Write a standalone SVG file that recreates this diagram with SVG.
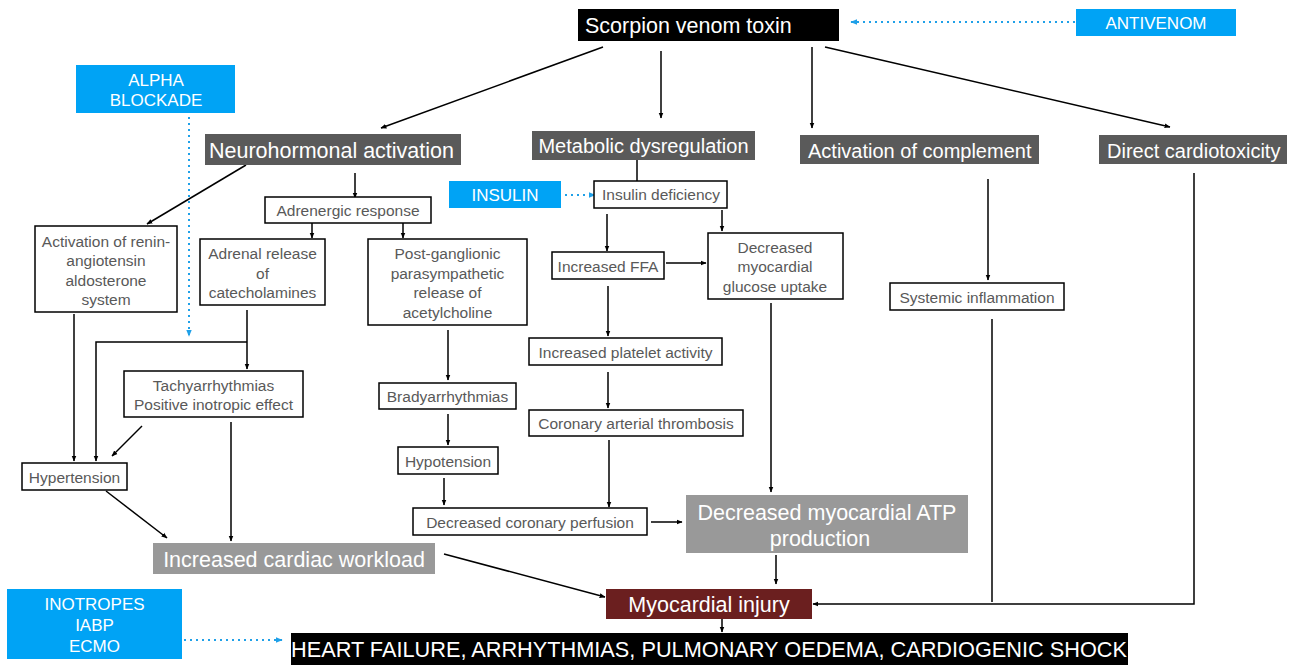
<svg xmlns="http://www.w3.org/2000/svg" width="1290" height="666" viewBox="0 0 1290 666">
<defs>
<style>
.bx{fill:#fff;stroke:#000;stroke-width:1.5}
.t{font-family:"Liberation Sans",Arial,sans-serif;font-size:15.5px;fill:#595959;text-anchor:middle}
.big{font-family:"Liberation Sans",Arial,sans-serif;font-size:20px;fill:#fff}
.big2{font-family:"Liberation Sans",Arial,sans-serif;font-size:21.5px;fill:#fff}
.bl{font-family:"Liberation Sans",Arial,sans-serif;font-size:17px;fill:#fff;text-anchor:middle}
.blue{fill:#00A3F5}
.dg{fill:#5a5a5a}
.lg{fill:#999}
.c{fill:none;stroke:#000;stroke-width:1.5}
.a{marker-end:url(#ah)}
.d{fill:none;stroke:#1FA0E8;stroke-width:2;stroke-dasharray:2,4;marker-end:url(#bh)}
</style>
<marker id="ah" viewBox="0 0 10 10" refX="9" refY="5" markerWidth="6" markerHeight="6" orient="auto" markerUnits="userSpaceOnUse"><path d="M0,1 L10,5 L0,9 z" fill="#000"/></marker>
<marker id="bh" viewBox="0 0 10 10" refX="9" refY="5" markerWidth="7" markerHeight="7" orient="auto" markerUnits="userSpaceOnUse"><path d="M0,1 L10,5 L0,9 z" fill="#1FA0E8"/></marker>
</defs>
<rect width="1290" height="666" fill="#fff"/>

<g id="connectors">
<line class="c a" x1="603" y1="47" x2="381" y2="128"/>
<line class="c a" x1="661" y1="51" x2="661" y2="118"/>
<line class="c a" x1="812" y1="47" x2="812" y2="128"/>
<line class="c a" x1="825" y1="47" x2="1170" y2="127"/>
<line class="c a" x1="246" y1="165" x2="147" y2="224"/>
<line class="c a" x1="355" y1="173" x2="355" y2="198"/>
<line class="c" x1="637" y1="160" x2="637" y2="183"/>
<line class="c a" x1="312" y1="223" x2="312" y2="238"/>
<line class="c a" x1="403" y1="223" x2="403" y2="238"/>
<line class="c a" x1="74" y1="314" x2="74" y2="461"/>
<line class="c a" x1="247" y1="310" x2="247" y2="369"/>
<polyline class="c a" points="247,342 96,342 96,461"/>
<line class="c a" x1="142" y1="426" x2="112" y2="456"/>
<line class="c a" x1="231" y1="422" x2="231" y2="541"/>
<line class="c a" x1="106" y1="491" x2="167" y2="538"/>
<line class="c a" x1="444" y1="554" x2="605" y2="597"/>
<line class="c a" x1="448" y1="330" x2="448" y2="380"/>
<line class="c a" x1="448" y1="414" x2="448" y2="445"/>
<line class="c a" x1="444" y1="478" x2="444" y2="505"/>
<line class="c a" x1="607" y1="214" x2="607" y2="251"/>
<line class="c a" x1="722" y1="210" x2="722" y2="231"/>
<line class="c a" x1="666" y1="263" x2="706" y2="263"/>
<line class="c a" x1="608" y1="286" x2="608" y2="336"/>
<line class="c a" x1="608" y1="372" x2="608" y2="408"/>
<line class="c a" x1="609" y1="440" x2="609" y2="507"/>
<line class="c a" x1="771" y1="303" x2="771" y2="492"/>
<line class="c a" x1="651" y1="522" x2="682" y2="522"/>
<line class="c a" x1="776" y1="555" x2="776" y2="584"/>
<line class="c a" x1="722" y1="619" x2="722" y2="632"/>
<line class="c a" x1="988" y1="179" x2="988" y2="280"/>
<line class="c" x1="992" y1="319" x2="992" y2="602"/>
<polyline class="c a" points="1194,173 1194,604 813,604"/>
<line class="d" x1="1075" y1="22" x2="851" y2="22"/>
<line class="d" x1="565" y1="195" x2="595" y2="195"/>
<line class="d" x1="189" y1="117" x2="189" y2="336"/>
<line class="d" x1="184" y1="640" x2="282" y2="640"/>
</g>

<g id="scorpion"><rect x="578" y="9" width="261" height="32" fill="#000"/><text class="big2" x="585" y="33">Scorpion venom toxin</text></g>
<g id="antivenom"><rect class="blue" x="1076" y="9" width="160" height="27"/><text class="bl" x="1156" y="29">ANTIVENOM</text></g>
<g id="alpha"><rect class="blue" x="76" y="65" width="159" height="48"/><text class="bl" x="156" y="86">ALPHA</text><text class="bl" x="156" y="106">BLOCKADE</text></g>
<g id="neuro"><rect class="dg" x="205" y="134" width="256" height="31"/><text class="big2" x="209" y="158">Neurohormonal activation</text></g>
<g id="metabolic"><rect class="dg" x="532" y="131" width="223" height="29"/><text class="big" x="643.5" y="153" text-anchor="middle">Metabolic dysregulation</text></g>
<g id="complement"><rect class="dg" x="800" y="135" width="239" height="29"/><text class="big" x="808" y="158">Activation of complement</text></g>
<g id="direct"><rect class="dg" x="1099" y="135" width="188" height="29"/><text class="big" x="1107" y="158">Direct cardiotoxicity</text></g>
<g id="insulin"><rect class="blue" x="449" y="181" width="112" height="27"/><text class="bl" x="505" y="201">INSULIN</text></g>
<g id="insdef"><rect class="bx" x="594" y="181" width="133" height="27"/><text class="t" x="661" y="200">Insulin deficiency</text></g>
<g id="adrenergic"><rect class="bx" x="265" y="197" width="166" height="26"/><text class="t" x="348" y="215.5">Adrenergic response</text></g>
<g id="raas"><rect class="bx" x="35" y="226" width="142" height="86"/><text class="t" x="106" y="246.5">Activation of renin-</text><text class="t" x="106" y="265.5">angiotensin</text><text class="t" x="106" y="285.5">aldosterone</text><text class="t" x="106" y="304.5">system</text></g>
<g id="adrenal"><rect class="bx" x="200" y="239" width="125" height="66"/><text class="t" x="262.5" y="258.5">Adrenal release</text><text class="t" x="262.5" y="278.5">of</text><text class="t" x="262.5" y="297.5">catecholamines</text></g>
<g id="postgang"><rect class="bx" x="368" y="239" width="159" height="86"/><text class="t" x="447.5" y="258.5">Post-ganglionic</text><text class="t" x="447.5" y="278.5">parasympathetic</text><text class="t" x="447.5" y="297.5">release of</text><text class="t" x="447.5" y="317.5">acetylcholine</text></g>
<g id="glucose"><rect class="bx" x="708" y="233" width="135" height="66"/><text class="t" x="775" y="252.5">Decreased</text><text class="t" x="775" y="271.5">myocardial</text><text class="t" x="775" y="291.5">glucose uptake</text></g>
<g id="ffa"><rect class="bx" x="552" y="252" width="112" height="27"/><text class="t" x="608" y="271.5">Increased FFA</text></g>
<g id="systemic"><rect class="bx" x="890" y="283" width="174" height="27"/><text class="t" x="977" y="302.5">Systemic inflammation</text></g>
<g id="platelet"><rect class="bx" x="529" y="338" width="193" height="27"/><text class="t" x="625.5" y="357.5">Increased platelet activity</text></g>
<g id="tachy"><rect class="bx" x="124" y="371" width="179" height="46"/><text class="t" x="213.5" y="390.5">Tachyarrhythmias</text><text class="t" x="213.5" y="409.5">Positive inotropic effect</text></g>
<g id="brady"><rect class="bx" x="379" y="383" width="137" height="26"/><text class="t" x="447.5" y="401.5">Bradyarrhythmias</text></g>
<g id="thrombosis"><rect class="bx" x="529" y="410" width="214" height="26"/><text class="t" x="636" y="428.5">Coronary arterial thrombosis</text></g>
<g id="hypotension"><rect class="bx" x="398" y="447" width="100" height="27"/><text class="t" x="448" y="466.5">Hypotension</text></g>
<g id="hypertension"><rect class="bx" x="22" y="463" width="105" height="27"/><text class="t" x="74.5" y="482.5">Hypertension</text></g>
<g id="perfusion"><rect class="bx" x="413" y="508" width="234" height="27"/><text class="t" x="530" y="527.5">Decreased coronary perfusion</text></g>
<g id="atp"><rect class="lg" x="686" y="495" width="282" height="58"/><text class="big2" x="827" y="520" text-anchor="middle">Decreased myocardial ATP</text><text class="big2" x="820" y="546" text-anchor="middle">production</text></g>
<g id="workload"><rect class="lg" x="153" y="543" width="282" height="31"/><text class="big2" x="294" y="566.5" text-anchor="middle">Increased cardiac workload</text></g>
<g id="inotropes"><rect class="blue" x="7" y="589" width="175" height="70"/><text class="bl" x="94.5" y="610">INOTROPES</text><text class="bl" x="94.5" y="631">IABP</text><text class="bl" x="94.5" y="652">ECMO</text></g>
<g id="injury"><rect x="606" y="589" width="206" height="30" fill="#6B1F1F"/><text class="big2" x="709" y="612" text-anchor="middle">Myocardial injury</text></g>
<g id="outcome"><rect x="291" y="633" width="837" height="32" fill="#000"/><text class="big2" x="291" y="657" textLength="836" lengthAdjust="spacingAndGlyphs">HEART FAILURE, ARRHYTHMIAS, PULMONARY OEDEMA, CARDIOGENIC SHOCK</text></g>
</svg>
